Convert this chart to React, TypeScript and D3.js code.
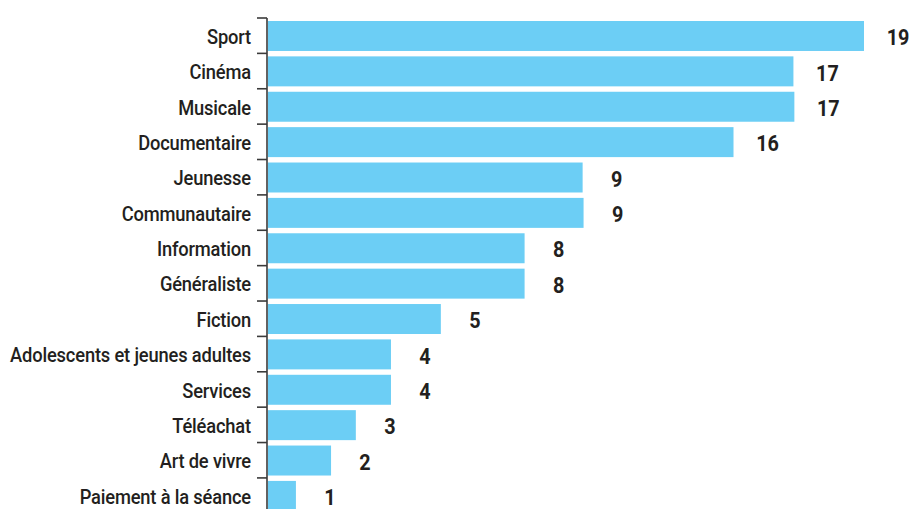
import React, { useRef, useEffect } from 'react';
import * as d3 from 'd3';

// categories, top to bottom
const categories = [
    "Sport", "Cinéma", "Musicale", "Documentaire", "Jeunesse", "Communautaire",
    "Information", "Généraliste", "Fiction", "Adolescents et jeunes adultes",
    "Services", "Téléachat", "Art de vivre", "Paiement à la séance"
];
// bar lengths as drawn
const barValues = [19, 16.75, 16.78, 14.84, 10.03, 10.06, 8.18, 8.18, 5.51, 3.92, 3.92, 2.8, 2.01, 0.89];
// printed labels
const valueLabels = ["19", "17", "17", "16", "9", "9", "8", "8", "5", "4", "4", "3", "2", "1"];

const WIDTH = 911;
const HEIGHT = 509;
const FONT = "Roboto, 'Noto Sans', sans-serif";

const App: React.FC = () => {
    const svgRef = useRef<SVGSVGElement>(null);

    useEffect(() => {
        if (!svgRef.current) return;
        const svg = d3.select(svgRef.current);
        svg.selectAll("*").remove();

        const axisX = 267;
        const y = d3.scaleBand<number>()
            .domain(d3.range(categories.length))
            .range([18, 513.3]);
        const x = d3.scaleLinear()
            .domain([0, 19])
            .range([axisX + 1, 864]);

        const g = svg.append("g");

        // bars
        g.selectAll(".bar")
            .data(barValues)
            .enter().append("rect")
            .attr("class", "bar")
            .attr("x", x(0))
            .attr("y", (_d, i) => y(i)! + 3)
            .attr("width", d => x(d) - x(0))
            .attr("height", y.bandwidth() - 5.4)
            .attr("fill", "#6ccef5");

        // axis line + ticks
        g.append("line")
            .attr("x1", axisX).attr("x2", axisX)
            .attr("y1", y(0)!).attr("y2", HEIGHT)
            .attr("stroke", "#3a3a3a").attr("stroke-width", 1.6);
        g.selectAll(".tick")
            .data(categories)
            .enter().append("line")
            .attr("class", "tick")
            .attr("x1", axisX - 10).attr("x2", axisX)
            .attr("y1", (_d, i) => y(i)!).attr("y2", (_d, i) => y(i)!)
            .attr("stroke", "#3a3a3a").attr("stroke-width", 1.6);

        // category labels (condensed look: horizontally squeezed)
        const cats = g.selectAll(".cat")
            .data(categories)
            .enter().append("g")
            .attr("class", "cat");
        const catText = cats.append("text")
            .attr("x", 0)
            .attr("y", 0)
            .attr("dy", "0.36em")
            .attr("text-anchor", "end")
            .style("font-family", FONT)
            .style("font-size", "21px")
            .style("font-weight", 500)
            .style("letter-spacing", "-0.2px")
            .attr("fill", "#231f20")
            .text(d => d);
        let maxW = 0;
        catText.each(function () {
            maxW = Math.max(maxW, (this as SVGTextElement).getComputedTextLength());
        });
        const k = maxW > 0 ? Math.min(1, 241 / maxW) : 0.85;
        cats.attr("transform", (_d, i) => `translate(251,${y(i)! + y.bandwidth() / 2 + 0.5}) scale(${k},1)`);

        // value labels
        const vals = g.selectAll(".val")
            .data(barValues)
            .enter().append("g")
            .attr("class", "val")
            .attr("transform", (d, i) => `translate(${x(d) + 34},${y(i)! + y.bandwidth() / 2 + 1.5}) scale(0.9,1)`);
        vals.append("text")
            .attr("dy", "0.36em")
            .attr("text-anchor", "middle")
            .style("font-family", FONT)
            .style("font-size", "22px")
            .style("font-weight", "bold")
            .attr("fill", "#231f20")
            .text((_d, i) => valueLabels[i]);
    }, []);

    return (
        <svg
            ref={svgRef}
            width={WIDTH}
            height={HEIGHT}
            style={{ position: "absolute", left: 0, top: 0, background: "#fff" }}
        />
    );
};

export default App;
